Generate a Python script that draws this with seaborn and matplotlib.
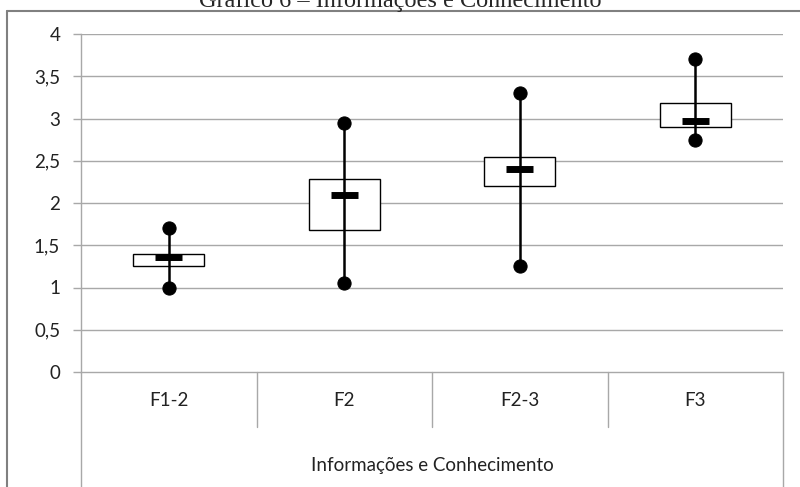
import numpy as np
import pandas as pd
import matplotlib
matplotlib.use('Agg')
import matplotlib.pyplot as plt
import matplotlib.transforms as mtransforms
from matplotlib.lines import Line2D
from matplotlib.ticker import FuncFormatter
import seaborn as sns

# Data (min, Q1, median, Q3, max per stage)
categories = ['F1-2', 'F2', 'F2-3', 'F3']
mins = [1.00, 1.05, 1.25, 2.75]
q1 = [1.25, 1.68, 2.20, 2.90]
medians = [1.36, 2.10, 2.40, 2.97]
q3 = [1.40, 2.28, 2.55, 3.18]
maxs = [1.70, 2.95, 3.30, 3.70]
group_label = 'Informações e Conhecimento'
title = 'Gráfico 6 – Informações e Conhecimento'

df = pd.DataFrame({'cat': categories, 'min': mins, 'q1': q1,
                   'med': medians, 'q3': q3, 'max': maxs})
df['x'] = np.arange(len(df))

sns.set_style('white')
plt.rcParams['font.family'] = ['Lato', 'DejaVu Sans']

fig = plt.figure(figsize=(8, 4.87), dpi=100)
ax = fig.add_axes([81/800, 1-372/487, 702/800, 338/487])

grid_col = '#a8a8a8'
txt_col = '#222222'
ax.set_ylim(0, 4)
ax.set_xlim(-0.5, len(df) - 0.5)
ax.set_yticks(np.arange(0, 4.01, 0.5))
ax.yaxis.set_major_formatter(FuncFormatter(lambda v, p: ('%g' % v).replace('.', ',')))
for y in np.arange(0.5, 4.01, 0.5):
    ax.axhline(y, color=grid_col, lw=1, zorder=0)

# boxes
ax.bar(df['x'], df['q3'] - df['q1'], bottom=df['q1'], width=0.405,
       color='white', edgecolor='black', linewidth=1, zorder=2)
# whiskers min-max
ax.vlines(df['x'], df['min'], df['max'], color='black', lw=1.8, zorder=3)
sns.scatterplot(data=df, x='x', y='min', ax=ax, color='black', s=90,
                edgecolor='black', zorder=4, legend=False)
sns.scatterplot(data=df, x='x', y='max', ax=ax, color='black', s=90,
                edgecolor='black', zorder=4, legend=False)
# medians
ax.hlines(df['med'], df['x'] - 0.077, df['x'] + 0.077, color='black', lw=5, zorder=5)

for s in ['top', 'right']:
    ax.spines[s].set_visible(False)
for s in ['left', 'bottom']:
    ax.spines[s].set_color(grid_col)
    ax.spines[s].set_linewidth(1)
ax.tick_params(axis='y', which='major', length=6, color=grid_col, width=1,
               labelsize=13.5, labelcolor=txt_col, left=True, pad=9)
ax.set_xticks([])
ax.set_xlabel('')
ax.set_ylabel('')

# category labels and separators below the axis
trans = mtransforms.blended_transform_factory(ax.transData, ax.transAxes)
fy = lambda py: -(py - 372) / 338
for i, c in enumerate(categories):
    ax.text(i, fy(400), c, transform=trans, ha='center', va='center',
            fontsize=13.5, color=txt_col)
for b in np.arange(0.5, len(df) - 1, 1):
    ax.plot([b, b], [0, fy(427)], transform=trans, color=grid_col, lw=1, clip_on=False)
for b in [-0.5, len(df) - 0.5]:
    ax.plot([b, b], [0, fy(490)], transform=trans, color=grid_col, lw=1, clip_on=False)
ax.text(1.5, fy(465), group_label, transform=trans, ha='center', va='center',
        fontsize=13.5, color=txt_col)

# outer frame and clipped title
fig.add_artist(Line2D([7/800, 7/800], [0, 1-11/487], color='#808080', lw=1.5))
fig.add_artist(Line2D([7/800, 1], [1-11/487, 1-11/487], color='#808080', lw=1.5))
fig.text(0.5, 1-7/487, title, ha='center', va='baseline', fontsize=17.5,
         family='Liberation Serif')

fig.savefig('out.png', dpi=100)
